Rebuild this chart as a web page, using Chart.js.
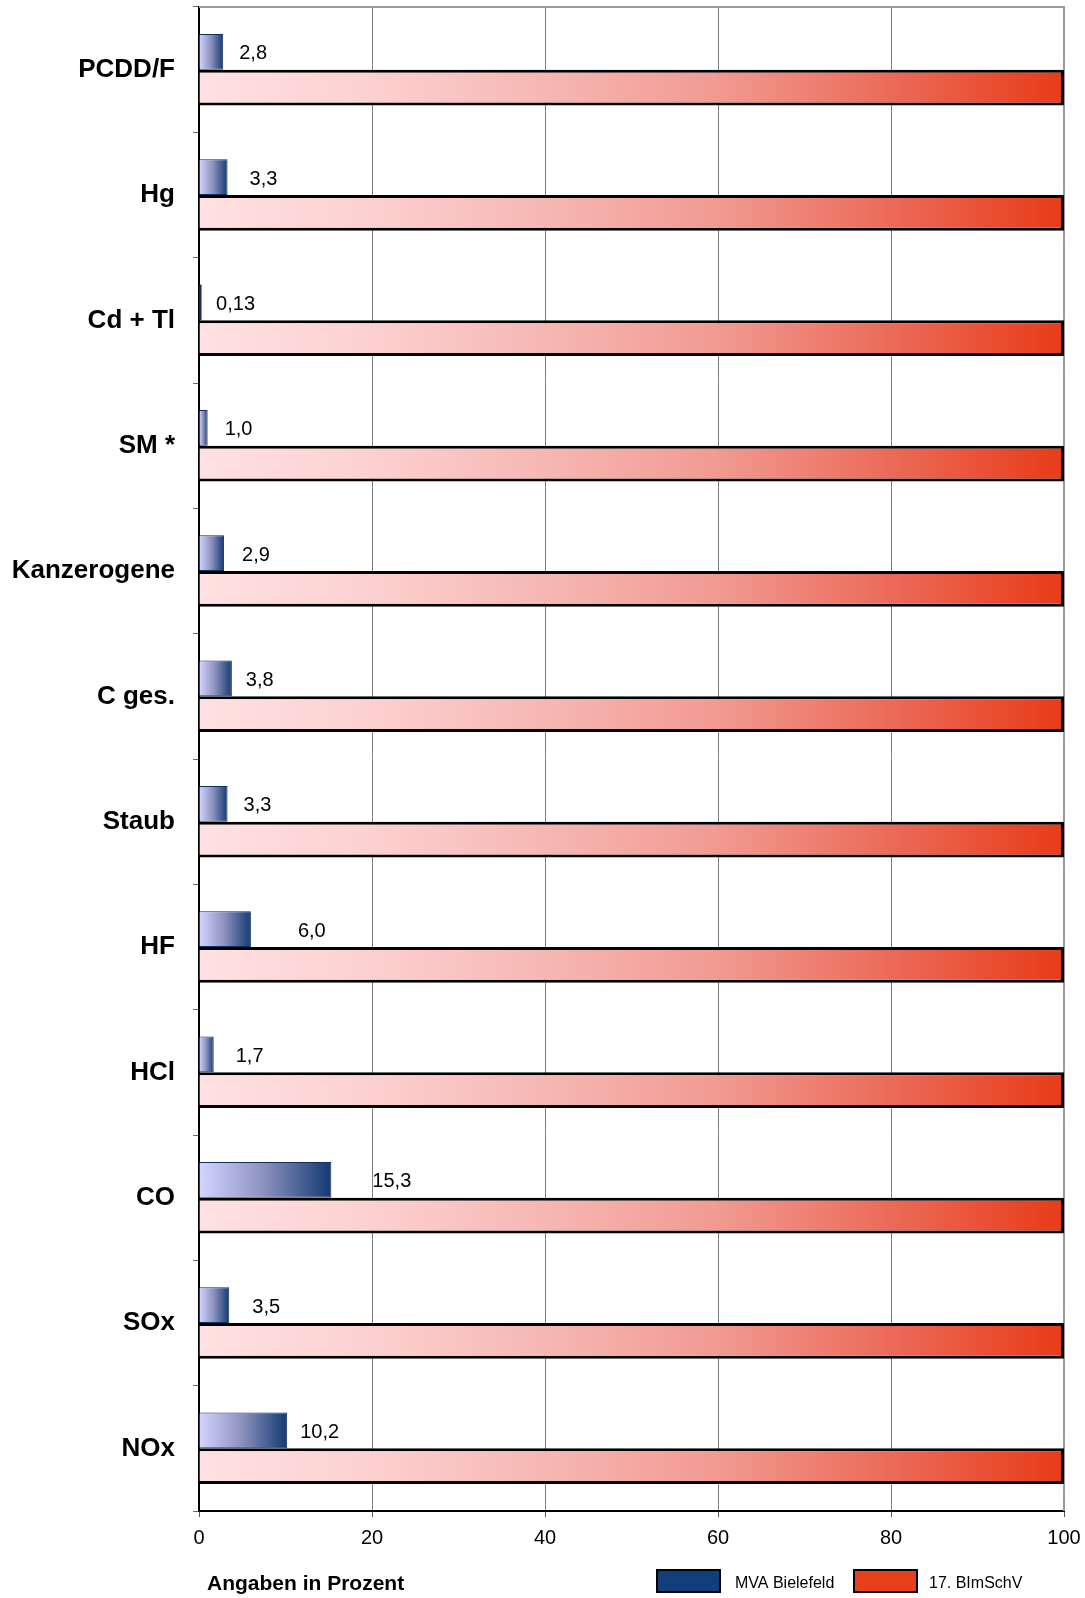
<!DOCTYPE html>
<html lang="de">
<head>
<meta charset="utf-8">
<title>Emissionen MVA Bielefeld im Vergleich zur 17. BImSchV</title>
<script src="https://cdn.jsdelivr.net/npm/chart.js@4/dist/chart.umd.min.js"></script>
<style>
  html, body { margin: 0; padding: 0; background: #fff; }
  #wrap { width: 1085px; height: 1598px; }
</style>
</head>
<body>
<div id="wrap"><canvas id="chart" width="1085" height="1598"></canvas></div>
<script>
// Schadstoffe (Kategorien)
const categories = ['PCDD/F', 'Hg', 'Cd + Tl', 'SM *', 'Kanzerogene', 'C ges.', 'Staub', 'HF', 'HCl', 'CO', 'SOx', 'NOx'];
// Emissionen der MVA Bielefeld in Prozent des Grenzwerts
const mvaValues = [2.8, 3.3, 0.13, 1.0, 2.9, 3.8, 3.3, 6.0, 1.7, 15.3, 3.5, 10.2];
// Grenzwerte der 17. BImSchV (= 100 %)
const limitValues = [100, 100, 100, 100, 100, 100, 100, 100, 100, 100, 100, 100];
// Achsenbeschriftung der Prozentachse
const xTicks = [0, 20, 40, 60, 80, 100];
const seriesNames = ['MVA Bielefeld', '17. BImSchV'];
const axisCaption = 'Angaben in Prozent';

const FONT = "'Liberation Sans', Arial, Helvetica, sans-serif";
Chart.defaults.font.family = FONT;
Chart.defaults.color = '#000';

// horizontal shift of each value label from its bar end (px)
const labelNudge = [16, 22, 16, 17, 18, 14, 16, 47, 22, 41, 23, 13];

// German decimal format: "2,8", "0,13"
function fmt(v) {
  const d = v < 1 ? 2 : 1;
  return v.toFixed(d).replace('.', ',');
}

// blue bars: light lavender to navy along each bar's own length
function blueFill(ctx) {
  const chart = ctx.chart;
  if (!chart.chartArea || ctx.type !== 'data') return '#133a73';
  const x = chart.scales.x;
  const x0 = x.getPixelForValue(0);
  const x1 = x.getPixelForValue(mvaValues[ctx.dataIndex]);
  const g = chart.ctx.createLinearGradient(x0, 0, Math.max(x1, x0 + 1), 0);
  g.addColorStop(0, '#d3d6ff');
  g.addColorStop(0.5, '#8a8fbc');
  g.addColorStop(1, '#123a73');
  return g;
}

// red bars: pale pink to vermilion over the whole axis
function redFill(ctx) {
  const chart = ctx.chart;
  if (!chart.chartArea) return '#e83c18';
  const x = chart.scales.x;
  const g = chart.ctx.createLinearGradient(x.getPixelForValue(0), 0, x.getPixelForValue(100), 0);
  g.addColorStop(0, '#ffe1e1');
  g.addColorStop(0.2, '#fcd0d0');
  g.addColorStop(0.4, '#f6b7b3');
  g.addColorStop(0.6, '#f19a91');
  g.addColorStop(0.8, '#eb6a58');
  g.addColorStop(1, '#e83b17');
  return g;
}

// gray frame along the top and right edges of the plot
const framePlugin = {
  id: 'frame',
  beforeDatasetsDraw(chart) {
    const { ctx, chartArea: a } = chart;
    ctx.save();
    ctx.strokeStyle = '#9a9a9a';
    ctx.lineWidth = 2;
    ctx.beginPath();
    ctx.moveTo(a.left, a.top);
    ctx.lineTo(a.right, a.top);
    ctx.lineTo(a.right, a.bottom);
    ctx.stroke();
    ctx.restore();
  }
};

// numeric labels next to the blue bars
const valueLabelPlugin = {
  id: 'valueLabels',
  afterDatasetsDraw(chart) {
    const { ctx } = chart;
    const meta = chart.getDatasetMeta(0);
    ctx.save();
    ctx.font = '20px ' + FONT;
    ctx.fillStyle = '#000';
    ctx.textAlign = 'left';
    ctx.textBaseline = 'middle';
    meta.data.forEach((bar, i) => {
      // very short bars still show as a thin dark stroke on the axis
      if (bar.width < 2) {
        ctx.fillStyle = '#132f5e';
        ctx.fillRect(bar.base, bar.y - bar.height / 2, 2, bar.height);
        ctx.fillStyle = '#000';
      }
      ctx.fillText(fmt(mvaValues[i]), bar.x + labelNudge[i], bar.y + 2);
    });
    ctx.restore();
  }
};

// caption and legend row at the bottom
const legendPlugin = {
  id: 'bottomLegend',
  afterDraw(chart) {
    const { ctx } = chart;
    const yc = 1581;
    ctx.save();
    ctx.fillStyle = '#000';
    ctx.font = 'bold 21px ' + FONT;
    ctx.textAlign = 'left';
    ctx.textBaseline = 'middle';
    ctx.fillText(axisCaption, 207, yc + 3);

    const items = [
      { text: seriesNames[0], color: '#123f7a', box: 657, tx: 735 },
      { text: seriesNames[1], color: '#e8401a', box: 854, tx: 929 }
    ];
    items.forEach(it => {
      ctx.fillStyle = it.color;
      ctx.fillRect(it.box, yc - 11, 63, 22);
      ctx.strokeStyle = '#000';
      ctx.lineWidth = 2;
      ctx.strokeRect(it.box, yc - 11, 63, 22);
      ctx.fillStyle = '#000';
      ctx.font = '16px ' + FONT;
      ctx.fillText(it.text, it.tx, yc + 3);
    });
    ctx.restore();
  }
};

new Chart(document.getElementById('chart'), {
  type: 'bar',
  data: {
    labels: categories,
    datasets: [
      {
        label: seriesNames[0],
        data: mvaValues,
        backgroundColor: blueFill,
        borderColor: '#132f5e',
        borderWidth: 1,
        borderSkipped: 'start'
      },
      {
        label: seriesNames[1],
        data: limitValues,
        backgroundColor: redFill,
        borderColor: '#000',
        borderWidth: 3,
        borderSkipped: 'start'
      }
    ]
  },
  options: {
    indexAxis: 'y',
    responsive: false,
    animation: false,
    datasets: { bar: { categoryPercentage: 0.57, barPercentage: 1.0 } },
    layout: { padding: { top: 7, right: 21, bottom: 0, left: 0 } },
    plugins: {
      legend: { display: false },
      tooltip: { enabled: false }
    },
    scales: {
      x: {
        min: 0,
        max: 100,
        afterFit(scale) {
          scale.height = 87;
          scale.paddingLeft = 0;
          scale.paddingRight = 0;
        },
        afterBuildTicks(scale) { scale.ticks = xTicks.map(v => ({ value: v })); },
        ticks: { font: { size: 20 }, color: '#000', padding: 9, maxRotation: 0 },
        grid: { color: '#808080', lineWidth: 1, tickLength: 6, tickColor: '#555' },
        border: { display: true, color: '#000', width: 2 }
      },
      y: {
        afterFit(scale) {
          scale.width = 199;
          scale.paddingTop = 0;
          scale.paddingBottom = 0;
        },
        ticks: { font: { size: 26, weight: 'bold' }, color: '#000', padding: 18 },
        grid: { display: true, drawOnChartArea: false, offset: true, tickLength: 6, color: '#666' },
        border: { display: true, color: '#000', width: 2 }
      }
    }
  },
  plugins: [framePlugin, valueLabelPlugin, legendPlugin]
});
</script>
</body>
</html>
